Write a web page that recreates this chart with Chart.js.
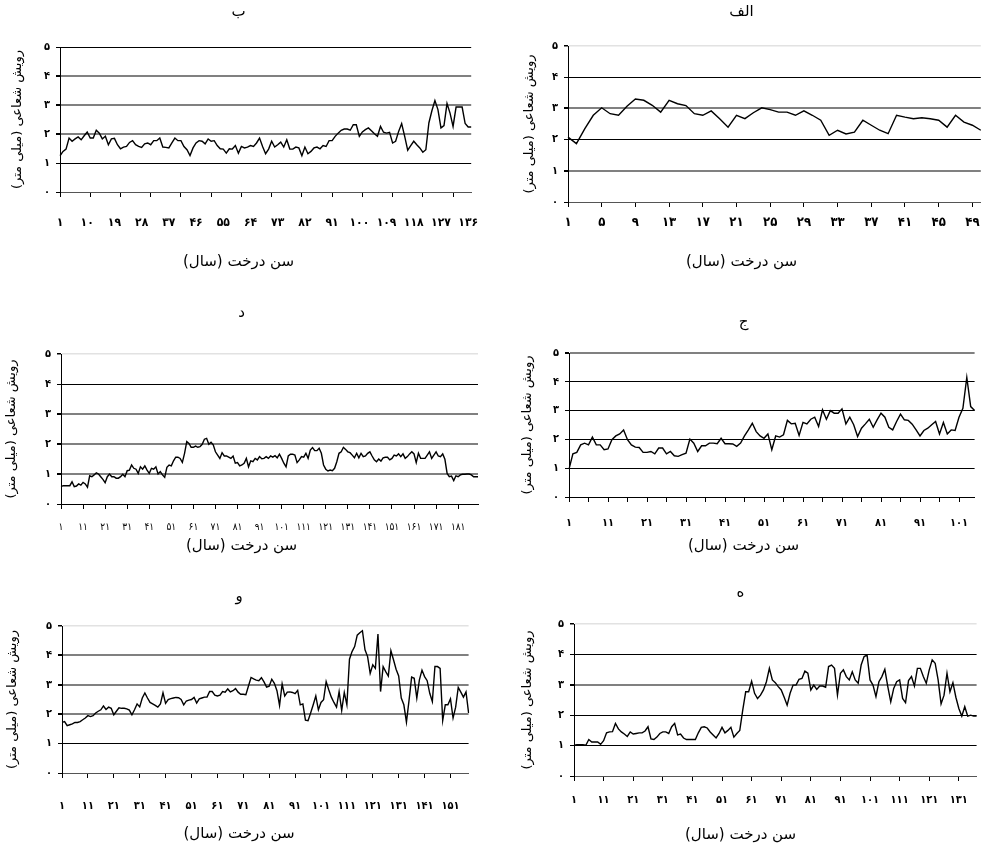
<!DOCTYPE html>
<html>
<head>
<meta charset="utf-8">
<script src="https://cdn.jsdelivr.net/npm/chart.js@4.4.1/dist/chart.umd.min.js"></script>
<style>
  html, body { margin: 0; padding: 0; background: #fff; }
  body { width: 989px; height: 847px; position: relative; overflow: hidden; }
  canvas { position: absolute; }
</style>
</head>
<body>
<script>
// radial growth (mm) per tree age, one array per sample tree
const alefValues = [2.08,1.87,2.35,2.78,3.02,2.83,2.78,3.07,3.30,3.26,3.10,2.88,3.26,3.15,3.09,2.83,2.78,2.92,2.67,2.40,
  2.78,2.67,2.86,3.02,2.96,2.88,2.88,2.78,2.92,2.78,2.62,2.14,2.30,2.18,2.24,2.62,2.46,2.30,2.19,2.78,
  2.72,2.67,2.70,2.67,2.62,2.40,2.78,2.56,2.46,2.30];

const beValues = [1.25,1.40,1.48,1.86,1.75,1.83,1.90,1.80,1.94,2.07,1.86,1.86,2.13,2.03,1.83,1.92,1.63,1.83,1.85,1.63,
  1.49,1.55,1.57,1.71,1.77,1.63,1.57,1.54,1.66,1.69,1.63,1.77,1.77,1.86,1.55,1.54,1.52,1.69,1.86,1.77,
  1.77,1.57,1.46,1.26,1.52,1.69,1.77,1.75,1.66,1.83,1.75,1.77,1.60,1.49,1.48,1.34,1.49,1.48,1.60,1.34,
  1.57,1.52,1.55,1.60,1.57,1.69,1.86,1.57,1.32,1.48,1.75,1.55,1.63,1.72,1.55,1.80,1.48,1.48,1.55,1.52,
  1.25,1.55,1.32,1.40,1.52,1.55,1.49,1.60,1.57,1.77,1.77,1.92,2.03,2.13,2.17,2.17,2.13,2.32,2.32,1.92,
  2.07,2.15,2.21,2.11,2.01,1.92,2.26,2.06,2.03,2.06,1.69,1.75,2.09,2.36,1.92,1.44,1.60,1.75,1.63,1.52,
  1.37,1.46,2.38,2.80,3.15,2.84,2.21,2.29,3.05,2.72,2.26,2.93,2.93,2.93,2.36,2.24,2.24];

const jimValues = [0.97,1.50,1.55,1.81,1.87,1.81,2.08,1.81,1.81,1.64,1.67,1.99,2.12,2.19,2.33,1.99,1.81,1.73,1.72,1.55,
  1.55,1.58,1.50,1.70,1.70,1.50,1.58,1.43,1.41,1.47,1.52,2.01,1.87,1.58,1.78,1.78,1.87,1.87,1.85,2.04,
  1.85,1.85,1.84,1.76,1.87,2.12,2.33,2.56,2.27,2.12,2.04,2.19,1.64,2.12,2.08,2.16,2.66,2.54,2.56,2.14,
  2.59,2.54,2.70,2.77,2.45,3.03,2.70,3.00,2.91,2.91,3.06,2.54,2.77,2.51,2.10,2.39,2.54,2.70,2.42,2.68,
  2.91,2.77,2.42,2.33,2.62,2.88,2.68,2.66,2.53,2.33,2.12,2.31,2.39,2.51,2.62,2.19,2.59,2.19,2.33,2.31,
  2.77,3.08,4.15,3.14,3.00];

const dalValues = [0.58,0.61,0.61,0.61,0.61,0.74,0.58,0.60,0.67,0.63,0.72,0.67,0.56,0.94,0.91,0.97,1.04,1.00,0.91,0.82,
  0.71,0.91,1.00,0.91,0.91,0.86,0.86,0.91,0.99,0.91,1.11,1.13,1.30,1.19,1.16,1.02,1.24,1.16,1.27,1.13,
  1.02,1.19,1.16,1.24,1.00,1.08,0.97,0.89,1.22,1.30,1.27,1.44,1.56,1.56,1.52,1.39,1.69,2.08,2.02,1.89,
  1.89,1.93,1.89,1.91,1.99,2.16,2.19,1.99,2.06,1.97,1.74,1.63,1.52,1.71,1.60,1.60,1.56,1.52,1.60,1.36,
  1.38,1.27,1.30,1.36,1.52,1.24,1.44,1.41,1.52,1.47,1.58,1.51,1.52,1.58,1.52,1.60,1.56,1.61,1.54,1.66,
  1.52,1.36,1.24,1.60,1.66,1.66,1.63,1.38,1.47,1.58,1.56,1.69,1.52,1.80,1.88,1.78,1.78,1.86,1.69,1.30,
  1.16,1.10,1.13,1.11,1.19,1.41,1.69,1.74,1.89,1.82,1.74,1.71,1.63,1.54,1.69,1.54,1.69,1.58,1.60,1.69,
  1.74,1.60,1.47,1.41,1.50,1.43,1.54,1.56,1.56,1.47,1.52,1.63,1.60,1.67,1.58,1.67,1.52,1.58,1.67,1.74,
  1.67,1.38,1.69,1.52,1.52,1.52,1.63,1.74,1.52,1.63,1.74,1.60,1.58,1.67,1.49,1.02,0.91,0.93,0.78,0.94,
  0.91,0.97,0.99,0.99,1.00,1.00,0.97,0.91,0.91,0.91];

const heValues = [1.01,1.03,1.03,1.03,1.01,1.20,1.12,1.12,1.12,1.04,1.16,1.42,1.45,1.46,1.73,1.55,1.45,1.38,1.30,1.45,
  1.38,1.40,1.42,1.42,1.48,1.62,1.22,1.20,1.28,1.40,1.45,1.45,1.40,1.62,1.73,1.35,1.38,1.25,1.20,1.20,
  1.20,1.20,1.42,1.60,1.62,1.58,1.45,1.35,1.25,1.40,1.60,1.42,1.50,1.60,1.28,1.40,1.50,2.17,2.77,2.77,
  3.12,2.72,2.55,2.66,2.83,3.10,3.54,3.16,3.07,2.94,2.83,2.59,2.33,2.72,2.99,2.99,3.18,3.21,3.45,3.38,
  2.83,2.99,2.85,2.96,2.96,2.92,3.60,3.65,3.54,2.66,3.38,3.49,3.27,3.16,3.43,3.16,3.05,3.65,3.93,3.98,
  3.16,2.99,2.61,3.10,3.27,3.51,2.94,2.44,2.88,3.10,3.16,2.55,2.41,3.14,3.27,2.96,3.54,3.54,3.27,3.05,
  3.49,3.82,3.71,3.16,2.37,2.66,3.38,2.77,3.07,2.59,2.22,1.97,2.28,1.97,2.00,1.97,1.97];

const vavValues = [1.72,1.75,1.61,1.64,1.67,1.72,1.72,1.75,1.81,1.87,1.95,1.92,1.95,2.04,2.10,2.15,2.28,2.16,2.24,2.20,
  1.98,2.10,2.22,2.20,2.20,2.18,2.14,1.98,2.15,2.35,2.25,2.55,2.72,2.55,2.40,2.35,2.30,2.24,2.35,2.73,
  2.37,2.50,2.53,2.55,2.57,2.56,2.50,2.32,2.45,2.48,2.50,2.57,2.38,2.52,2.55,2.58,2.58,2.77,2.77,2.65,
  2.62,2.65,2.77,2.75,2.86,2.76,2.80,2.87,2.75,2.68,2.68,2.66,2.96,3.25,3.20,3.16,3.14,3.24,3.10,2.92,
  2.95,3.19,3.05,2.80,2.30,3.03,2.62,2.75,2.76,2.74,2.70,2.81,2.32,2.35,1.80,1.78,2.04,2.32,2.62,2.15,
  2.40,2.49,3.11,2.83,2.58,2.40,2.24,2.77,2.13,2.74,2.32,3.87,4.13,4.30,4.69,4.77,4.84,4.19,3.96,3.39,
  3.68,3.56,4.73,2.77,3.62,3.45,3.30,4.16,3.85,3.53,3.30,2.55,2.32,1.73,2.47,3.26,3.22,2.55,3.17,3.50,
  3.28,3.14,2.71,2.43,3.62,3.62,3.56,1.79,2.32,2.32,2.52,1.87,2.24,2.91,2.75,2.58,2.76,2.04];

const yTickValues = [0, 1, 2, 3, 4, 5];
const xAxisTitle = 'سن درخت (سال)\u200F';
const yAxisTitle = 'رویش شعاعی (میلی متر)';

const FA_DIGITS = '۰۱۲۳۴۵۶۷۸۹';
const toFa = n => String(n).replace(/\d/g, d => FA_DIGITS[d]);
const ages = n => Array.from({ length: n }, (_, i) => i + 1);

const FONT = "'DejaVu Sans', sans-serif";
const TICK_FONT = "'DejaVu Sans Condensed', 'DejaVu Sans', sans-serif";
const TITLE_SIZE = 15;
const XTITLE_SIZE = 15;
const YTITLE_SIZE = 13;

const GRID = {
  dark: { color: '#000', width: 1 },
  mid: { color: '#808080', width: 2 },
  light: { color: '#e2e2e2', width: 1.5 }
};

// page layout of each small chart
const panels = [
  { title: 'الف', values: alefValues, labelEvery: 4, tickEvery: 4,
    box: [500, 0, 489, 285], plot: [568, 46, 983, 202], titleY: 12, xLabelY: 223, xTitleY: 262, yTitleX: 530,
    xTickFont: { size: 13, weight: 'bold' }, grid: ['light', 'dark', 'mid', 'dark', 'mid'], xBorder: '#555' },
  { title: 'ب', values: beValues, labelEvery: 9, tickEvery: 10,
    box: [0, 0, 490, 285], plot: [60, 47, 477, 192], titleY: 12, xLabelY: 223, xTitleY: 262, yTitleX: 18,
    xTickFont: { size: 12, weight: 'bold' }, grid: ['dark', 'mid', 'mid', 'mid', 'dark'], xBorder: '#555' },
  { title: 'ج', values: jimValues, labelEvery: 10, tickEvery: 5,
    box: [500, 290, 489, 270], plot: [569, 353, 987, 497], titleY: 322, xLabelY: 523, xTitleY: 546, yTitleX: 528,
    xTickFont: { size: 11, weight: 'bold' }, grid: ['mid', 'dark', 'dark', 'dark', 'dark'], xBorder: '#000' },
  { title: 'د', values: dalValues, labelEvery: 10, tickEvery: 10,
    box: [0, 290, 490, 270], plot: [61, 354, 483, 504], titleY: 313, xLabelY: 527, xTitleY: 546, yTitleX: 12,
    xTickFont: { size: 10, weight: 'normal' }, grid: ['light', 'dark', 'mid', 'mid', 'mid'], xBorder: '#000' },
  { title: 'ه', values: heValues, labelEvery: 10, tickEvery: 10,
    box: [500, 575, 489, 272], plot: [574, 624, 981, 776], titleY: 593, xLabelY: 800, xTitleY: 835, yTitleX: 528,
    xTickFont: { size: 11, weight: 'bold' }, grid: ['light', 'dark', 'mid', 'dark', 'dark'], xBorder: '#555' },
  { title: 'و', values: vavValues, labelEvery: 10, tickEvery: 10,
    box: [0, 575, 490, 272], plot: [62, 626, 478, 773], titleY: 597, xLabelY: 806, xTitleY: 834, yTitleX: 13,
    xTickFont: { size: 11, weight: 'bold' }, grid: ['light', 'mid', 'mid', 'mid', 'dark'], xBorder: '#555' }
];

function gridStyle(p, value) {
  if (value === 0) return null;
  return GRID[p.grid[5 - value]];
}

panels.forEach((p) => {
  const [bx, by, bw, bh] = p.box;
  const [pl, pt, pr, pb] = p.plot;
  const canvas = document.createElement('canvas');
  canvas.width = bw;
  canvas.height = bh;
  canvas.style.left = bx + 'px';
  canvas.style.top = by + 'px';
  canvas.style.width = bw + 'px';
  canvas.style.height = bh + 'px';
  document.body.appendChild(canvas);

  const titleLH = TITLE_SIZE * 1.2;
  const xTitleLH = XTITLE_SIZE * 1.2;
  const yTitleLH = YTITLE_SIZE * 1.2;
  const xTickLH = p.xTickFont.size * 1.2;

  new Chart(canvas, {
    type: 'line',
    data: {
      labels: ages(p.values.length),
      datasets: [{
        data: p.values,
        borderColor: '#000',
        borderWidth: 1.4,
        pointRadius: 0,
        tension: 0,
        fill: false
      }]
    },
    options: {
      responsive: false,
      animation: false,
      devicePixelRatio: 1,
      layout: { padding: { left: 0, right: bx + bw - pr, top: 0, bottom: 0 } },
      plugins: {
        legend: { display: false },
        tooltip: { enabled: false },
        title: {
          display: true,
          text: p.title,
          color: '#000',
          font: { family: FONT, size: TITLE_SIZE, weight: 'normal' },
          padding: { top: p.titleY - by - titleLH / 2, bottom: pt - p.titleY - titleLH / 2 }
        },
        subtitle: {
          display: true,
          position: 'bottom',
          text: xAxisTitle,
          color: '#000',
          font: { family: FONT, size: XTITLE_SIZE, weight: 'normal' },
          padding: { top: 0, bottom: by + bh - p.xTitleY - xTitleLH / 2 }
        }
      },
      scales: {
        x: {
          type: 'category',
          offset: false,
          grid: {
            display: true,
            drawOnChartArea: false,
            drawTicks: true,
            tickLength: 5,
            tickColor: (ctx) => (ctx.index % p.tickEvery === 0 ? '#000' : 'rgba(0,0,0,0)')
          },
          border: { display: true, color: p.xBorder, width: 1 },
          ticks: {
            autoSkip: false,
            maxRotation: 0,
            minRotation: 0,
            padding: p.xLabelY - pb - 5 - xTickLH / 2,
            color: '#000',
            font: { family: TICK_FONT, size: p.xTickFont.size, weight: p.xTickFont.weight },
            callback: (v, i) => (i % p.labelEvery === 0 ? toFa(i + 1) : '')
          },
          afterFit: (s) => { s.height = p.xTitleY - xTitleLH / 2 - pb; }
        },
        y: {
          min: 0,
          max: 5,
          afterBuildTicks: (s) => { s.ticks = yTickValues.map((v) => ({ value: v })); },
          grid: {
            color: (ctx) => { const g = gridStyle(p, ctx.tick.value); return g ? g.color : 'rgba(0,0,0,0)'; },
            lineWidth: (ctx) => { const g = gridStyle(p, ctx.tick.value); return g ? g.width : 1; },
            tickColor: '#000',
            tickLength: 4,
            drawTicks: true
          },
          border: { display: true, color: '#000', width: 1 },
          ticks: {
            padding: 6,
            color: '#000',
            font: { family: TICK_FONT, size: 11, weight: 'bold' },
            callback: (v) => toFa(v)
          },
          title: {
            display: true,
            text: yAxisTitle,
            color: '#000',
            font: { family: FONT, size: YTITLE_SIZE, weight: 'normal' },
            padding: { top: p.yTitleX - bx - yTitleLH / 2, bottom: 0 }
          },
          afterFit: (s) => { s.width = pl - bx; }
        }
      }
    }
  });
});
</script>
</body>
</html>
